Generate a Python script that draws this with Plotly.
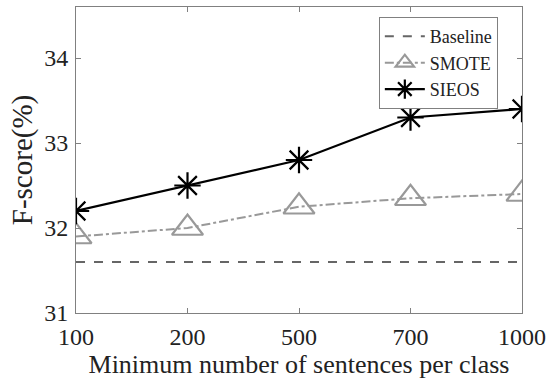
import plotly.graph_objects as go

categories = ["100", "200", "500", "700", "1000"]
baseline = [31.6, 31.6, 31.6, 31.6, 31.6]
smote = [31.9, 32.0, 32.25, 32.35, 32.4]
sieos = [32.2, 32.5, 32.8, 33.3, 33.4]

xpos = list(range(len(categories)))

fig = go.Figure()
fig.add_trace(go.Scatter(x=xpos, y=baseline, mode="lines", name="Baseline",
                         line=dict(color="#666666", width=2, dash="dash")))
fig.add_trace(go.Scatter(x=xpos, y=smote, mode="lines+markers", name="SMOTE",
                         line=dict(color="#999999", width=2, dash="dashdot"),
                         marker=dict(symbol="triangle-up-open", size=27,
                                     color="#999999", line=dict(width=2.2, color="#999999"))))
fig.add_trace(go.Scatter(x=xpos, y=sieos, mode="lines+markers", name="SIEOS",
                         line=dict(color="black", width=2.2),
                         marker=dict(symbol="asterisk-open", size=22,
                                     color="black", line=dict(width=2.2, color="black"))))

axis_common = dict(showline=True, linecolor="#808080", linewidth=1, mirror="ticks",
                   ticks="inside", ticklen=5, tickcolor="#808080", showgrid=False,
                   zeroline=False, tickfont=dict(family="Liberation Serif", size=24, color="#222222"))

fig.update_xaxes(tickmode="array", tickvals=xpos, ticktext=categories,
                 range=[0, len(categories) - 1], ticklabelstandoff=2,
                 title_text="Minimum number of sentences per class", title_standoff=2,
                 title_font=dict(family="Liberation Serif", size=26, color="#222222"),
                 **axis_common)
fig.update_yaxes(range=[31, 34.6], tickvals=[31, 32, 33, 34], ticklabelstandoff=2,
                 title_text="F-score(%)", title_standoff=3,
                 title_font=dict(family="Liberation Serif", size=29, color="#222222"),
                 **axis_common)

fig.update_layout(
    width=553, height=381,
    margin=dict(l=76, r=31, t=7, b=68),
    paper_bgcolor="white", plot_bgcolor="white",
    showlegend=True,
    legend=dict(x=0.679, y=0.967, xanchor="left", yanchor="top",
                bgcolor="white", bordercolor="#808080", borderwidth=1,
                font=dict(family="Liberation Serif", size=18, color="#222222"),
                tracegroupgap=0, itemwidth=40),
)

fig.write_html("out.html")
